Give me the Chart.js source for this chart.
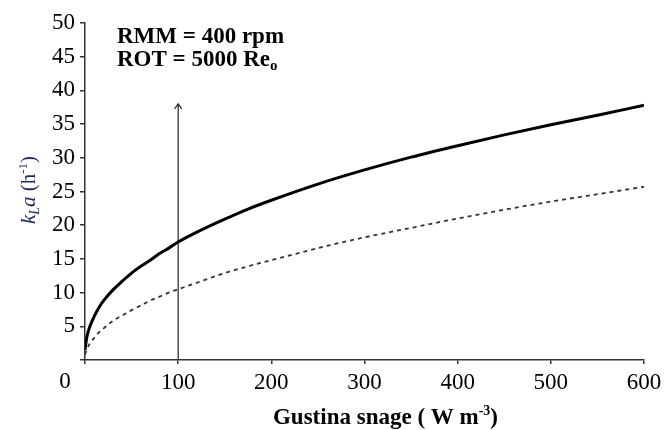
<!DOCTYPE html>
<html><head><meta charset="utf-8">
<script src="https://cdn.jsdelivr.net/npm/chart.js@4/dist/chart.umd.min.js"></script>
<style>html,body{margin:0;padding:0;background:#fff}#wrap{width:664px;height:430px}</style>
</head><body><div id="wrap"><canvas id="c" width="664" height="430"></canvas></div>
<script>
// ---- data ----
const powerDensity = [0,2,5,10,15,20,30,40,50,60,70,80,90,100,125,150,175,200,250,300,350,400,450,500,550,600];
const kLaSolid  = [1.5,3.4,4.9,6.5,7.8,8.8,10.4,11.7,12.9,13.9,14.8,15.8,16.6,17.5,19.3,20.9,22.4,23.7,26.1,28.2,30.1,31.8,33.4,34.9,36.3,37.8];
const kLaDashed = [0.8,1.6,2.4,3.3,4.1,4.7,5.8,6.6,7.4,8.1,8.8,9.4,10.0,10.5,11.7,12.9,13.9,14.8,16.6,18.2,19.6,21.0,22.3,23.5,24.6,25.7];
const xTickValues = [0,100,200,300,400,500,600];
const yTickValues = [0,5,10,15,20,25,30,35,40,45,50];
const arrowX = 100;
const arrowTop = 38;
const annotation1 = 'RMM = 400 rpm';
const annotation2 = 'ROT = 5000 Re';
const annotation2Sub = 'o';
const xTitleMain = 'Gustina snage ( W m';
const xTitleSup = '-3';
const xTitleEnd = ')';
const yTitleItalic = 'k';
const yTitleSub = 'L';
const yTitleItalic2 = 'a';
const yTitleMain = ' (h';
const yTitleSup = '-1';
const yTitleEnd = ')';

const SERIF = '"Liberation Serif", "Times New Roman", serif';
const TICK_FONT_SIZE = 23;

function pts(xs, ys){ return xs.map((x,i)=>({x:x, y:ys[i]})); }

function drawRuns(ctx, runs, x, y, align){
  let total = 0;
  runs.forEach(r=>{ ctx.font = r.font; total += ctx.measureText(r.t).width; });
  let cx = align==='center' ? x - total/2 : x;
  runs.forEach(r=>{ ctx.font = r.font; ctx.fillText(r.t, cx, y + (r.dy||0)); cx += ctx.measureText(r.t).width; });
}

const decorPlugin = {
  id: 'decor',
  afterDatasetsDraw(chart){
    const ctx = chart.ctx, ca = chart.chartArea;
    const xs = chart.scales.x;
    ctx.save();
    // arrowhead on top of the arrow dataset
    const meta = chart.getDatasetMeta(2);
    const top = meta.data[1];
    ctx.strokeStyle = '#222'; ctx.lineWidth = 1.2;
    ctx.beginPath();
    ctx.moveTo(top.x - 3.5, top.y + 5); ctx.lineTo(top.x, top.y); ctx.lineTo(top.x + 3.5, top.y + 5);
    ctx.stroke();

    ctx.fillStyle = '#000';
    ctx.textBaseline = 'alphabetic';
    ctx.textAlign = 'left';
    const bold = s => 'bold ' + s + 'px ' + SERIF;
    drawRuns(ctx, [{t:annotation1, font:bold(23)}], ca.left + 32, 43, 'left');
    drawRuns(ctx, [{t:annotation2, font:bold(23)}, {t:annotation2Sub, font:bold(15), dy:4}], ca.left + 32, 66, 'left');

    // "0" at the origin
    ctx.font = TICK_FONT_SIZE + 'px ' + SERIF;
    ctx.textAlign = 'center'; ctx.textBaseline = 'top';
    ctx.fillText('0', xs.getPixelForValue(0) - 20, ca.bottom + 10);

    // x title
    ctx.textAlign = 'left'; ctx.textBaseline = 'alphabetic';
    drawRuns(ctx, [{t:xTitleMain, font:bold(23)}, {t:xTitleSup, font:bold(14), dy:-9}, {t:xTitleEnd, font:bold(23)}], (ca.left+ca.right)/2 + 21, 424, 'center');

    // y title
    ctx.save();
    ctx.translate(35, 190);
    ctx.rotate(-Math.PI/2);
    ctx.fillStyle = '#1e2b58';
    const it = s => 'italic ' + s + 'px ' + SERIF;
    const rm = s => s + 'px ' + SERIF;
    drawRuns(ctx, [
      {t:yTitleItalic, font:it(21)}, {t:yTitleSub, font:it(14), dy:4}, {t:yTitleItalic2, font:it(21)},
      {t:yTitleMain, font:rm(21)}, {t:yTitleSup, font:rm(13), dy:-8}, {t:yTitleEnd, font:rm(21)}
    ], 0, 0, 'center');
    ctx.restore();
    ctx.restore();
  }
};

new Chart(document.getElementById('c'), {
  type: 'line',
  data: {
    datasets: [
      { data: pts(powerDensity, kLaSolid), borderColor:'#000', borderWidth:3, pointRadius:0, cubicInterpolationMode:'monotone', fill:false },
      { data: pts(powerDensity, kLaDashed), borderColor:'#333', borderWidth:1.8, borderDash:[4,4], pointRadius:0, cubicInterpolationMode:'monotone', fill:false },
      { data: [{x:arrowX, y:0}, {x:arrowX, y:arrowTop}], borderColor:'#222', borderWidth:1.2, pointRadius:0, fill:false }
    ]
  },
  options: {
    responsive: false,
    animation: false,
    devicePixelRatio: 1,
    layout: { padding: { left: 0, top: 23, right: 20, bottom: 0 } },
    plugins: { legend: { display:false }, tooltip: { enabled:false } },
    scales: {
      x: {
        type: 'linear', min: 0, max: 600,
        afterBuildTicks: s => { s.ticks = xTickValues.map(v=>({value:v})); },
        afterFit: s => { s.height = 70; s.paddingRight = 0; s.paddingLeft = 0; },
        border: { display:true, color:'#333', width:1.5 },
        grid: { drawOnChartArea:false, drawTicks:true, tickLength:4, color:'#333', lineWidth:1.5 },
        ticks: { color:'#000', padding:5, maxRotation:0, font:{ family:SERIF, size:TICK_FONT_SIZE }, callback: v => v===0 ? '' : String(v) }
      },
      y: {
        type: 'linear', min: 0, max: 50,
        afterBuildTicks: s => { s.ticks = yTickValues.map(v=>({value:v})); },
        afterFit: s => { s.width = 85; s.paddingTop = 0; s.paddingBottom = 0; },
        border: { display:true, color:'#333', width:1.5 },
        grid: { drawOnChartArea:false, drawTicks:true, tickLength:5, color:'#333', lineWidth:1.5 },
        ticks: { color:'#000', padding:5, font:{ family:SERIF, size:TICK_FONT_SIZE }, callback: v => v===0 ? '' : String(v) }
      }
    }
  },
  plugins: [decorPlugin]
});
</script>
</body></html>
